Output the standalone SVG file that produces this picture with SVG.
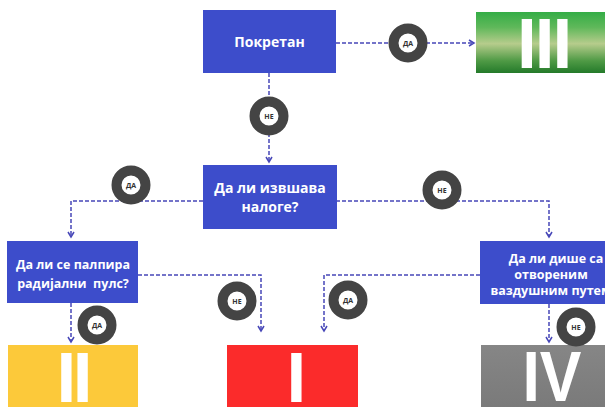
<svg xmlns="http://www.w3.org/2000/svg" width="605" height="408" viewBox="0 0 605 408">
<defs>
<linearGradient id="gGreen" x1="0" y1="0" x2="0" y2="1">
<stop offset="0" stop-color="#34ad46"/>
<stop offset="0.25" stop-color="#5fb85a"/>
<stop offset="0.52" stop-color="#b6cc8c"/>
<stop offset="0.8" stop-color="#4f9a45"/>
<stop offset="1" stop-color="#247a2a"/>
</linearGradient>
<linearGradient id="gGray" x1="0" y1="0" x2="0" y2="1">
<stop offset="0" stop-color="#868686"/>
<stop offset="1" stop-color="#7a7a7a"/>
</linearGradient>
<marker id="arr" viewBox="0 0 8 8" refX="6" refY="4" markerWidth="8" markerHeight="8" markerUnits="userSpaceOnUse" orient="auto">
<path d="M1,1 L6,4 L1,7" fill="none" stroke="#4747b8" stroke-width="1.5"/>
</marker>
<style>
.box{fill:#3d4dcb;}
.t{font-family:"Open Sans","Liberation Sans",sans-serif;font-weight:700;fill:#ffffff;text-anchor:middle;}
.t14{font-size:14px;}
.t13{font-size:12.5px;}
.num{font-family:"Liberation Sans",Arial,sans-serif;font-weight:700;fill:#ffffff;font-size:71px;}
.con{fill:none;stroke:#4747b8;stroke-width:1.5;stroke-dasharray:4 2;marker-end:url(#arr);}
.ring{fill:#ffffff;stroke:#444444;stroke-width:10;}
.lab{font-family:"Open Sans","Liberation Sans",sans-serif;font-weight:700;font-size:7px;fill:#333333;text-anchor:middle;}
</style>
</defs>
<rect width="605" height="408" fill="#ffffff"/>

<g id="connectors">
<path class="con" d="M336,43 H474"/>
<path class="con" d="M269,73 V162"/>
<path class="con" d="M203,201 H71 V237"/>
<path class="con" d="M336,201 H549 V237"/>
<path class="con" d="M138,275 H261 V331"/>
<path class="con" d="M480,275 H324 V331"/>
<path class="con" d="M71,303 V342"/>
<path class="con" d="M549,304 V342"/>
</g>

<g id="node-pokretan">
<rect class="box" x="203" y="10" width="133" height="63"/>
<text class="t t14" x="269.5" y="47">Покретан</text>
</g>

<g id="node-iii">
<rect x="476" y="12" width="140" height="61" fill="url(#gGreen)"/>
<text class="num" x="517" y="68" letter-spacing="-2">III</text>
</g>

<g id="node-nalog">
<rect class="box" x="203" y="165" width="134" height="64"/>
<text class="t t14" x="270" y="193">Да ли извшава</text>
<text class="t t14" x="270" y="212">налоге?</text>
</g>

<g id="node-puls">
<rect class="box" x="7" y="241" width="131" height="62"/>
<text class="t" font-size="12.5" x="73" y="269">Да ли се палпира</text>
<text class="t" font-size="12.5" x="73" y="288" xml:space="preserve">радијални  пулс?</text>
</g>

<g id="node-dise">
<rect class="box" x="480" y="241" width="145" height="63"/>
<text class="t t13" x="556" y="263">Да ли дише са</text>
<text class="t t13" x="551" y="279">отвореним</text>
<text class="t t13" x="551" y="295">ваздушним путем</text>
</g>

<g id="node-ii">
<rect x="8" y="345" width="130" height="62" fill="#fcc93a"/>
<text class="num" x="56.5" y="402" letter-spacing="-3.5">II</text>
</g>

<g id="node-i">
<rect x="227" y="345" width="131" height="62" fill="#fb2b2b"/>
<text class="num" x="286.5" y="402">I</text>
</g>

<g id="node-iv">
<rect x="481" y="345" width="135" height="62" fill="url(#gGray)"/>
<text class="num" x="522.5" y="401" textLength="59" lengthAdjust="spacingAndGlyphs">IV</text>
</g>

<g id="labels">
<circle class="ring" cx="408" cy="43" r="14.5"/>
<text class="lab" x="408" y="45.5">ДА</text>
<circle class="ring" cx="269" cy="116" r="14.5"/>
<text class="lab" x="269" y="118.5">НЕ</text>
<circle class="ring" cx="131" cy="185" r="14.5"/>
<text class="lab" x="131" y="187.5">ДА</text>
<circle class="ring" cx="442" cy="190" r="14.5"/>
<text class="lab" x="442" y="192.5">НЕ</text>
<circle class="ring" cx="237" cy="301" r="14.5"/>
<text class="lab" x="237" y="303.5">НЕ</text>
<circle class="ring" cx="348" cy="300" r="14.5"/>
<text class="lab" x="348" y="302.5">ДА</text>
<circle class="ring" cx="97" cy="325" r="14.5"/>
<text class="lab" x="97" y="327.5">ДА</text>
<circle class="ring" cx="576" cy="327" r="14.5"/>
<text class="lab" x="576" y="329.5">НЕ</text>
</g>
</svg>
